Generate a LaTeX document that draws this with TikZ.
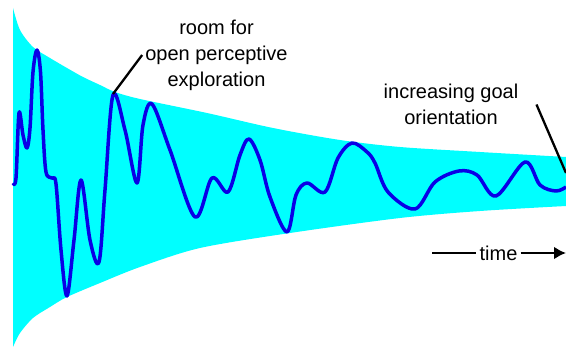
\documentclass[tikz,border=0pt]{standalone}
\usepackage{fontspec}
\setmainfont{Liberation Sans}
\usetikzlibrary{arrows.meta}
\definecolor{wave}{RGB}{10,0,230}
\definecolor{funnel}{RGB}{0,255,255}
\newcommand{\upperedge}{(13,8) (20,30) (33,47) (50,58) (67,68) (83,77) (100,85) (115,92) (140,99) (207,113) (273,128) (340,140) (400,147) (480,152) (566,157)}
\newcommand{\loweredge}{(566,206) (480,211) (400,218) (290,233) (200,248) (140,267) (100,283) (67,297) (50,307) (33,318) (20,333) (13,347)}
\begin{document}
\begin{tikzpicture}[x=1pt,y=-1pt,>=Latex,lbl/.style={font=\fontsize{20}{26}\selectfont,align=center,inner sep=3pt},ptr/.style={line width=2.3pt}]
\useasboundingbox (0,0) rectangle (566,347);
\fill[funnel] plot[smooth] coordinates {\upperedge} -- plot[smooth] coordinates {\loweredge} -- cycle;
\draw[wave,line width=3.5pt,line join=round] plot[smooth,tension=.55] coordinates {(13,183) (16,178) (19,113) (23,135) (27,148) (30,128) (33,72) (37,50) (40.5,72) (43,130) (46,172) (52,178) (56,184) (61,250) (67,296) (74,240) (81,180) (90,240) (99,262) (105,190) (113,95) (125,130) (137,183) (143,125) (152,104) (170,150) (195,217) (212,178) (228,192) (240,155) (249,139) (260,160) (270,197) (287,232) (296,195) (307,183) (325,192) (338,158) (352,143) (367,152) (375,163) (388,192) (415,209) (435,182) (459,171) (477,175) (496,196) (525,162) (540,185) (556,191) (566,187)};
\node[lbl] (room) at (216.5,55) {room for\\open perceptive\\exploration};\coordinate (rpk) at (113,94);\draw[ptr] (room.west) -- (rpk);
\node[lbl,inner xsep=18pt] (goal) at (451,104.5) {increasing goal\\orientation};\coordinate (gpk) at (566,173);\draw[ptr] (goal.east) -- (gpk);
\node[lbl] (time) at (498.5,253) {time};\coordinate (tl) at (432,253);\coordinate (tr) at (566,253);
\draw[line width=2.6pt] (tl) -- (time.west);\draw[line width=2.6pt,-{Latex[length=12pt,width=13pt]}] (time.east) -- (tr);
\end{tikzpicture}
\end{document}
